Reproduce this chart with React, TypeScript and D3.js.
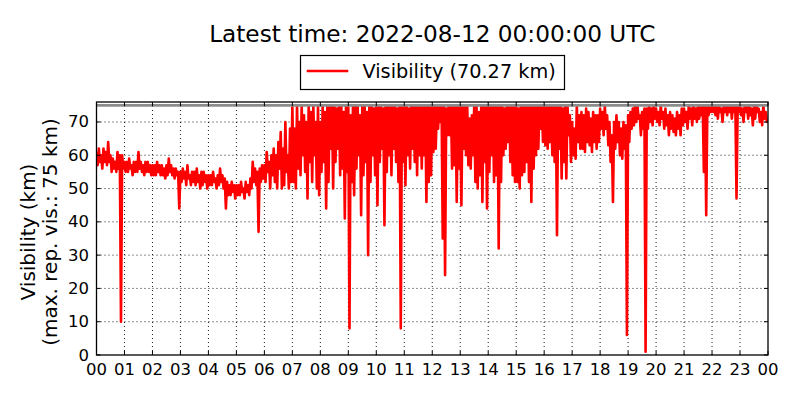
import * as d3 from 'd3';

// Visibility (km) per 5-minute bin, 00:00–23:55 UTC.
// The raw record is 1-minute data, so each bin keeps its highest and lowest reading.
const binHigh: number[] = [
  // 00
  61, 62, 60, 62, 61, 64, 60, 59, 58, 61, 60, 60,
  // 01
  58, 58, 59, 57, 58, 58, 61, 58, 57, 58, 58, 57,
  // 02
  57, 57, 58, 57, 57, 56, 57, 59, 57, 56, 56, 55,
  // 03
  55, 56, 55, 57, 54, 55, 55, 56, 54, 55, 55, 54,
  // 04
  54, 54, 55, 53, 54, 56, 54, 53, 52, 51, 52, 51,
  // 05
  51, 51, 52, 50, 52, 51, 53, 58, 56, 55, 56, 57,
  // 06
  57, 61, 58, 60, 62, 60, 64, 67, 62, 70, 60, 68,
  // 07
  75, 68, 75, 70, 75, 72, 70, 75, 73, 75, 70, 75,
  // 08
  70, 75, 73, 75, 75, 75, 75, 74, 75, 75, 73, 75,
  // 09
  75, 72, 75, 75, 75, 72, 75, 75, 73, 75, 75, 74,
  // 10
  75, 75, 75, 74, 75, 75, 75, 75, 75, 74, 75, 75,
  // 11
  75, 75, 74, 75, 75, 75, 75, 75, 75, 75, 75, 75,
  // 12
  75, 75, 75, 75, 75, 75, 74, 75, 75, 75, 75, 75,
  // 13
  75, 75, 75, 75, 71, 72, 75, 75, 73, 75, 75, 75,
  // 14
  75, 75, 75, 75, 75, 75, 75, 74, 75, 75, 75, 75,
  // 15
  75, 74, 75, 75, 75, 75, 75, 75, 75, 75, 75, 75,
  // 16
  75, 75, 75, 75, 75, 75, 75, 75, 74, 75, 75, 72,
  // 17
  70, 68, 75, 72, 73, 72, 74, 73, 71, 73, 72, 72,
  // 18
  74, 73, 75, 72, 70, 66, 70, 72, 70, 68, 70, 69,
  // 19
  72, 73, 74, 75, 75, 72, 73, 74, 74, 75, 74, 75,
  // 20
  74, 73, 75, 73, 74, 72, 73, 72, 71, 73, 72, 74,
  // 21
  74, 73, 75, 74, 75, 74, 75, 75, 75, 75, 75, 75,
  // 22
  75, 75, 75, 75, 74, 75, 75, 75, 75, 75, 75, 75,
  // 23
  75, 74, 75, 75, 75, 74, 75, 75, 74, 73, 75, 73,
];

const binLow: number[] = [
  // 00
  57, 58, 56, 58, 57, 58, 55, 56, 55, 56, 10, 56,
  // 01
  55, 55, 56, 54, 55, 55, 56, 55, 54, 55, 55, 54,
  // 02
  54, 54, 55, 54, 54, 53, 54, 55, 54, 53, 54, 44,
  // 03
  52, 53, 51, 53, 51, 52, 51, 52, 50, 51, 52, 50,
  // 04
  51, 51, 52, 50, 51, 52, 50, 44, 48, 48, 49, 47,
  // 05
  48, 48, 49, 47, 49, 48, 50, 52, 51, 37, 52, 53,
  // 06
  52, 55, 50, 54, 52, 50, 56, 50, 51, 55, 50, 52,
  // 07
  52, 50, 56, 54, 60, 55, 47, 58, 52, 60, 50, 48,
  // 08
  55, 58, 44, 52, 62, 50, 58, 62, 54, 56, 41, 55,
  // 09
  8, 52, 48, 56, 60, 42, 54, 58, 30, 52, 60, 54,
  // 10
  45, 58, 62, 39, 55, 60, 54, 62, 58, 52, 8, 58,
  // 11
  51, 60, 56, 62, 58, 54, 60, 56, 60, 46, 52, 54,
  // 12
  61, 62, 68, 70, 35, 24, 66, 66, 56, 57, 46, 56,
  // 13
  45, 62, 60, 57, 56, 60, 52, 50, 54, 46, 58, 44,
  // 14
  55, 60, 52, 54, 32, 52, 60, 62, 64, 58, 54, 52,
  // 15
  52, 50, 54, 55, 58, 52, 46, 56, 60, 62, 68, 64,
  // 16
  63, 62, 64, 60, 58, 36, 62, 53, 58, 53, 66, 58,
  // 17
  60, 59, 64, 62, 62, 61, 64, 63, 61, 64, 62, 64,
  // 18
  68, 66, 68, 63, 58, 46, 62, 64, 60, 59, 62, 6,
  // 19
  64, 68, 69, 70, 71, 66, 68, 1, 68, 70, 69, 71,
  // 20
  70, 69, 71, 68, 69, 66, 68, 67, 66, 68, 66, 69,
  // 21
  70, 68, 71, 69, 71, 70, 71, 72, 55, 42, 72, 73,
  // 22
  73, 72, 71, 73, 70, 73, 72, 73, 71, 73, 47, 73,
  // 23
  72, 70, 73, 71, 72, 69, 71, 73, 70, 69, 71, 70,
];

const latestValue = 70.27;
const maxReportedVis = 75;
const hourTicks = d3.range(0, 25);
const hourLabels = hourTicks.map((h) => String(h % 24).padStart(2, '0'));
const yTicks = [0, 10, 20, 30, 40, 50, 60, 70];

const width = 800;
const height = 400;
const plot = { left: 96.5, right: 768, top: 102, bottom: 355 };
const font = "'DejaVu Sans', sans-serif";

export default function App() {
  const x = d3.scaleLinear().domain([0, 24]).range([plot.left, plot.right]);
  const y = d3.scaleLinear().domain([0, 76]).range([plot.bottom, plot.top]);

  // visit each bin's high then low, then close on the latest reading
  const points: [number, number][] = [];
  binHigh.forEach((hi, i) => {
    points.push([i / 12, hi]);
    points.push([(i + 0.5) / 12, binLow[i]]);
  });
  points.push([24, latestValue]);

  const line = d3
    .line<[number, number]>()
    .x((d) => x(d[0]))
    .y((d) => y(d[1]));

  const midY = 232;

  return (
    <svg
      width={width}
      height={height}
      viewBox={`0 0 ${width} ${height}`}
      style={{ position: 'absolute', left: 0, top: 0, background: '#fff' }}
      fontFamily={font}
    >
      <defs>
        <clipPath id="plot-clip">
          <rect x={plot.left} y={plot.top} width={plot.right - plot.left} height={plot.bottom - plot.top} />
        </clipPath>
      </defs>

      {/* Title */}
      <text x={(plot.left + plot.right) / 2} y={42} textAnchor="middle" fontSize={23.2} fill="#000">
        Latest time: 2022-08-12 00:00:00 UTC
      </text>

      {/* Legend */}
      <rect x={300.5} y={55.5} width={264} height={34} fill="#fff" stroke="#000" strokeWidth={1.2} />
      <line x1={306.7} x2={348.3} y1={71} y2={71} stroke="#ff0000" strokeWidth={2.6} />
      <text x={362.5} y={78} fontSize={19.3} fill="#000">
        {`Visibility (${latestValue.toFixed(2)} km)`}
      </text>

      {/* Grid */}
      <g stroke="#000" strokeWidth={0.9} strokeDasharray="1,3">
        {hourTicks.slice(1, -1).map((h) => (
          <line key={`gx${h}`} x1={x(h)} x2={x(h)} y1={plot.top} y2={plot.bottom} />
        ))}
        {yTicks.slice(1).map((v) => (
          <line key={`gy${v}`} x1={plot.left} x2={plot.right} y1={y(v)} y2={y(v)} />
        ))}
      </g>

      {/* Data */}
      <path
        d={line(points) ?? ''}
        fill="none"
        stroke="#ff0000"
        strokeWidth={2.6}
        strokeLinejoin="round"
        clipPath="url(#plot-clip)"
      />

      {/* Max reported visibility */}
      <line
        x1={plot.left}
        x2={plot.right}
        y1={y(maxReportedVis)}
        y2={y(maxReportedVis)}
        stroke="#8c8c8c"
        strokeWidth={2.6}
      />

      {/* Ticks (inward) */}
      <g stroke="#000" strokeWidth={1}>
        {hourTicks.map((h) => (
          <g key={`tx${h}`}>
            <line x1={x(h)} x2={x(h)} y1={plot.bottom} y2={plot.bottom - 4} />
            <line x1={x(h)} x2={x(h)} y1={plot.top} y2={plot.top + 4} />
          </g>
        ))}
        {yTicks.map((v) => (
          <g key={`ty${v}`}>
            <line x1={plot.left} x2={plot.left + 4} y1={y(v)} y2={y(v)} />
            <line x1={plot.right} x2={plot.right - 4} y1={y(v)} y2={y(v)} />
          </g>
        ))}
      </g>

      {/* Frame */}
      <rect
        x={plot.left}
        y={plot.top}
        width={plot.right - plot.left}
        height={plot.bottom - plot.top}
        fill="none"
        stroke="#000"
        strokeWidth={1.3}
      />

      {/* Tick labels */}
      <g fontSize={16.5} fill="#000">
        {hourTicks.map((h, i) => (
          <text key={`lx${h}`} x={x(h)} y={375} textAnchor="middle">
            {hourLabels[i]}
          </text>
        ))}
        {yTicks.map((v) => (
          <text key={`ly${v}`} x={89} y={y(v)} textAnchor="end" dominantBaseline="central">
            {v}
          </text>
        ))}
      </g>

      {/* Y label */}
      <g fontSize={20} fill="#000" textAnchor="middle">
        <text transform={`translate(28,${midY}) rotate(-90)`} dominantBaseline="central">
          Visibility (km)
        </text>
        <text transform={`translate(50,${midY}) rotate(-90)`} dominantBaseline="central">
          (max. rep. vis.: 75 km)
        </text>
      </g>
    </svg>
  );
}
